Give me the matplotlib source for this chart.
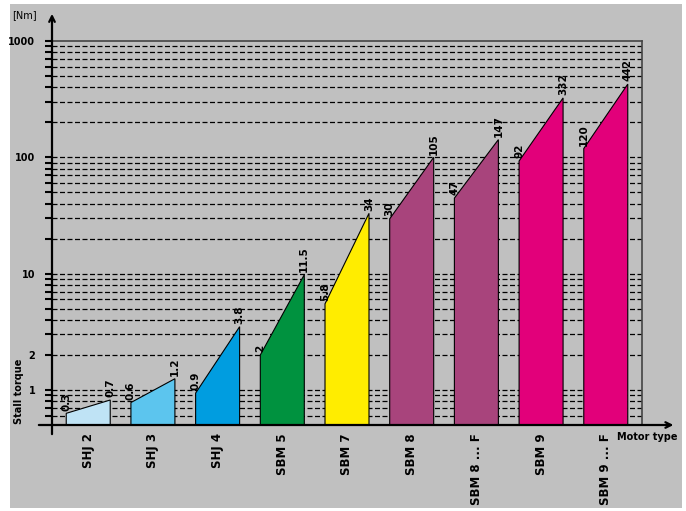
import matplotlib.pyplot as plt
from matplotlib.patches import Rectangle

plt.rcParams['font.family'] = ['Liberation Sans Narrow', 'DejaVu Sans']

# motor types and stall torque ranges (labels as printed on the chart)
motors = ['SHJ 2', 'SHJ 3', 'SHJ 4', 'SBM 5', 'SBM 7', 'SBM 8', 'SBM 8 ... F', 'SBM 9', 'SBM 9 ... F']
torque_min_lbl = ['0.3', '0.6', '0.9', '2', '5.8', '30', '47', '92', '120']
torque_max_lbl = ['0.7', '1.2', '3.8', '11.5', '34', '105', '147', '332', '442']
torque_min = [0.63, 0.78, 0.94, 2.0, 5.5, 29.6, 44.6, 93, 119]
torque_max = [0.82, 1.25, 3.5, 9.8, 33, 100, 142, 324, 426]
colors = ['#bfe3f5', '#5cc5ee', '#009de0', '#00923f', '#ffed00',
          '#a8447c', '#a8447c', '#e2007a', '#e2007a']

grid_vals = [0.6, 0.7, 0.8, 0.9, 1, 2, 3, 4, 5, 6, 7, 8, 9, 10,
             20, 30, 40, 50, 60, 70, 80, 90, 100,
             200, 300, 400, 500, 600, 700, 800, 900]
ytick_vals = grid_vals + [1000]
ytick_lbl = {1: '1', 2: '2', 10: '10', 100: '100', 1000: '1000'}

ymin, ymax = 0.5, 1000
w = 0.68

fig = plt.figure(figsize=(6.86, 5.11), dpi=100)
fig.patch.set_facecolor('white')
fig.patches.append(Rectangle((10 / 686, 3 / 511), 672 / 686, 504 / 511,
                             transform=fig.transFigure, facecolor='#c0c0c0',
                             edgecolor='none', zorder=-10))

ax = fig.add_axes([52 / 686, 86 / 511, 590 / 686, 384 / 511])
ax.set_facecolor('none')
ax.set_yscale('log')
ax.set_ylim(ymin, ymax)
ax.set_xlim(-0.56, len(motors) - 1 + 0.56)

# dashed grid behind the shapes
for g in grid_vals:
    ax.axhline(g, color='black', lw=0.9, ls=(0, (4, 2)), zorder=1)

# trapezoid per motor type
for i in range(len(motors)):
    xl, xr = i - w / 2, i + w / 2
    ax.fill([xl, xl, xr, xr], [ymin, torque_min[i], torque_max[i], ymin],
            facecolor=colors[i], edgecolor='black', lw=0.8, zorder=3)
    ax.annotate(torque_min_lbl[i], (xl, torque_min[i]), xytext=(0, 2),
                textcoords='offset points', rotation=90, ha='center', va='bottom',
                fontsize=7.5, fontweight='bold', zorder=4)
    ax.annotate(torque_max_lbl[i], (xr, torque_max[i]), xytext=(0, 2),
                textcoords='offset points', rotation=90, ha='center', va='bottom',
                fontsize=7.5, fontweight='bold', zorder=4)

# frame
for s in ['left', 'bottom']:
    ax.spines[s].set_visible(False)
for s in ['top', 'right']:
    ax.spines[s].set_color('#444444')
    ax.spines[s].set_linewidth(1.2)

ax.set_yticks(ytick_vals)
ax.set_yticklabels([ytick_lbl.get(v, '') for v in ytick_vals])
ax.yaxis.set_minor_locator(plt.NullLocator())
ax.tick_params(axis='y', direction='out', length=5, width=1.5, pad=7,
               labelsize=7)
for t in ax.get_yticklabels():
    t.set_fontweight('bold')

ax.set_xticks(range(len(motors)))
ax.set_xticklabels(motors, rotation=90, fontsize=8.5, fontweight='bold')
ax.tick_params(axis='x', length=0, pad=6)

# axis arrows
ax.annotate('', xy=(0, 1.078), xytext=(0, -0.031), xycoords='axes fraction',
            arrowprops=dict(arrowstyle='->', lw=1.6, color='black'),
            annotation_clip=False, zorder=6)
ax.annotate('', xy=(1.058, 0), xytext=(-0.027, 0), xycoords='axes fraction',
            arrowprops=dict(arrowstyle='->', lw=1.6, color='black'),
            annotation_clip=False, zorder=6)

fig.text(24 / 686, 1 - 15 / 511, '[Nm]', fontsize=7, ha='center', va='center')
fig.text(19 / 686, 1 - 424 / 511, 'Stall torque', rotation=90, fontsize=7,
         fontweight='bold', ha='center', va='bottom')
fig.text(617 / 686, 1 - 437 / 511, 'Motor type', fontsize=7,
         fontweight='bold', ha='left', va='center')

fig.savefig('out.png', dpi=100)
